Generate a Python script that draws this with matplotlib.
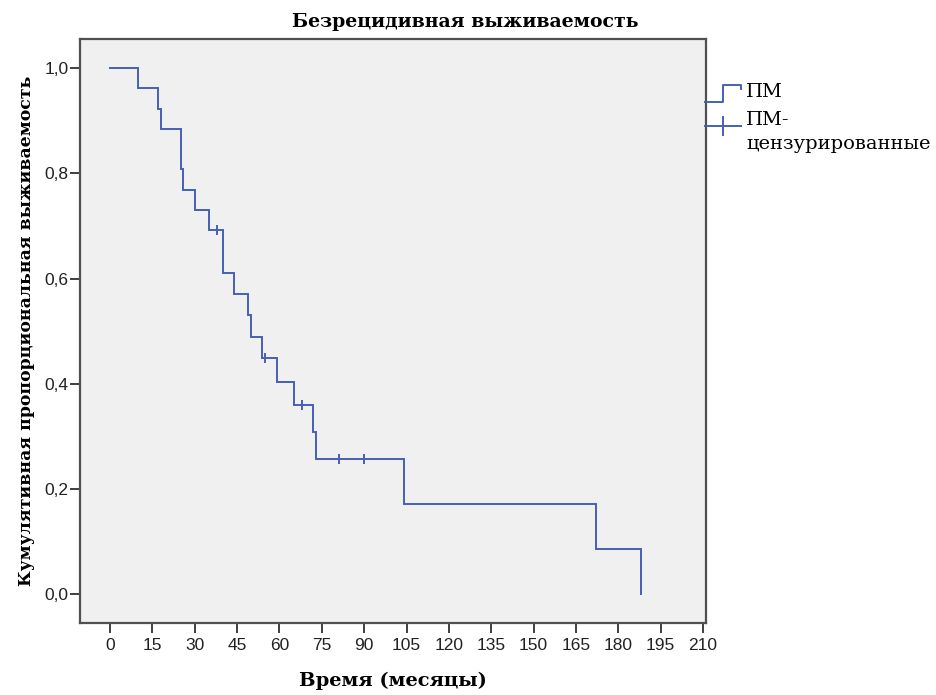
import matplotlib

matplotlib.use("Agg")
import matplotlib.pyplot as plt
from matplotlib.legend_handler import HandlerBase
from matplotlib.lines import Line2D

# Kaplan-Meier step curve (months, cumulative survival)
STEP_TIMES = [0, 10, 17, 18, 25, 26, 30, 35, 40, 44, 49, 50, 54, 59, 65, 72, 73, 104, 172, 188]
STEP_SURV = [1.0, 0.962, 0.923, 0.885, 0.808, 0.769, 0.731, 0.692, 0.611, 0.570,
             0.530, 0.489, 0.449, 0.403, 0.359, 0.308, 0.257, 0.171, 0.086, 0.0]

# censored observations
CENS_TIMES = [38, 55, 68, 81, 90]
CENS_SURV = [0.692, 0.449, 0.359, 0.257, 0.257]

X_TICKS = list(range(0, 211, 15))
Y_TICKS = [0.0, 0.2, 0.4, 0.6, 0.8, 1.0]
Y_TICK_LABELS = ["0,0", "0,2", "0,4", "0,6", "0,8", "1,0"]

TITLE = "Безрецидивная выживаемость"
X_LABEL = "Время (месяцы)"
Y_LABEL = "Кумулятивная пропорциональная выживаемость"
LEGEND_LABELS = ["ПМ", "ПМ-\nцензурированные"]

BLUE = "#4560B5"
FRAME = "#505050"
SERIF = "DejaVu Serif"
SANS = "Liberation Sans"


class StepHandle(HandlerBase):
    """Legend symbol drawn as a small step."""

    def create_artists(self, legend, orig_handle, xdescent, ydescent,
                       width, height, fontsize, trans):
        xs = [0, 0.5, 0.5, 1.0, 1.0]
        ys = [-0.35, -0.35, 0.85, 0.85, 0.6]
        line = Line2D(
            [x * width - xdescent for x in xs],
            [y * height - ydescent for y in ys],
            color=orig_handle.get_color(),
            lw=orig_handle.get_linewidth(),
            transform=trans,
        )
        return [line]


class CensHandle(HandlerBase):
    """Horizontal line with a censor tick, raised a little above centre."""

    def create_artists(self, legend, orig_handle, xdescent, ydescent,
                       width, height, fontsize, trans):
        y = 0.5 * height - ydescent + 0.3 * fontsize
        line = Line2D([-xdescent, width - xdescent], [y, y],
                      color=orig_handle.get_color(),
                      lw=orig_handle.get_linewidth(), transform=trans)
        tick = Line2D([0.5 * width - xdescent], [y], ls="none",
                      marker=orig_handle.get_marker(),
                      ms=orig_handle.get_markersize(),
                      mew=orig_handle.get_markeredgewidth(),
                      color=orig_handle.get_color(), transform=trans)
        return [line, tick]


def main() -> None:
    fig = plt.figure(figsize=(9.37, 6.95), dpi=100)
    ax = fig.add_axes((0.0854, 0.104, 0.668, 0.840))
    ax.set_facecolor("#F0F0F0")

    ax.step(STEP_TIMES, STEP_SURV, where="post", color=BLUE, lw=1.4,
            solid_joinstyle="miter")
    ax.plot(CENS_TIMES, CENS_SURV, ls="none", marker="|", ms=7, mew=1.4,
            color=BLUE)

    ax.set_xlim(-10.6, 211)
    ax.set_ylim(-0.055, 1.056)
    ax.set_xticks(X_TICKS)
    ax.set_yticks(Y_TICKS, Y_TICK_LABELS)
    ax.tick_params(direction="out", length=7.2, width=1.3, color="#303030",
                   labelcolor="#222222", labelsize=12.5,
                   labelfontfamily=SANS)
    ax.tick_params(axis="y", pad=1)
    ax.tick_params(axis="x", pad=4)

    for sp in ax.spines.values():
        sp.set_color(FRAME)
        sp.set_linewidth(1.6)

    ax.set_xlabel(X_LABEL, fontfamily=SERIF, fontweight="bold", fontsize=14,
                  labelpad=13)
    ax.set_ylabel(Y_LABEL, fontfamily=SERIF, fontweight="bold", fontsize=12.4,
                  labelpad=7)
    fig.text(0.497, 0.968, TITLE, ha="center", va="center",
             fontfamily=SERIF, fontweight="bold", fontsize=13.6)

    step_handle = Line2D([], [], color=BLUE, lw=1.4)
    cens_handle = Line2D([], [], color=BLUE, lw=1.4, marker="|", ms=14, mew=1.4)
    leg = fig.legend(
        handles=[step_handle, cens_handle],
        labels=LEGEND_LABELS,
        handler_map={step_handle: StepHandle(), cens_handle: CensHandle()},
        loc="upper left",
        bbox_to_anchor=(705 / 937, 1 - 83 / 695),
        frameon=False,
        prop={"family": SERIF, "size": 14},
        handlelength=1.85,
        handletextpad=0.25,
        borderpad=0,
        borderaxespad=0,
        labelspacing=0.5,
        numpoints=1,
    )
    leg.get_texts()[1].set_linespacing(1.45)

    fig.savefig("out.png", dpi=100)
    plt.close(fig)


if __name__ == "__main__":
    main()
